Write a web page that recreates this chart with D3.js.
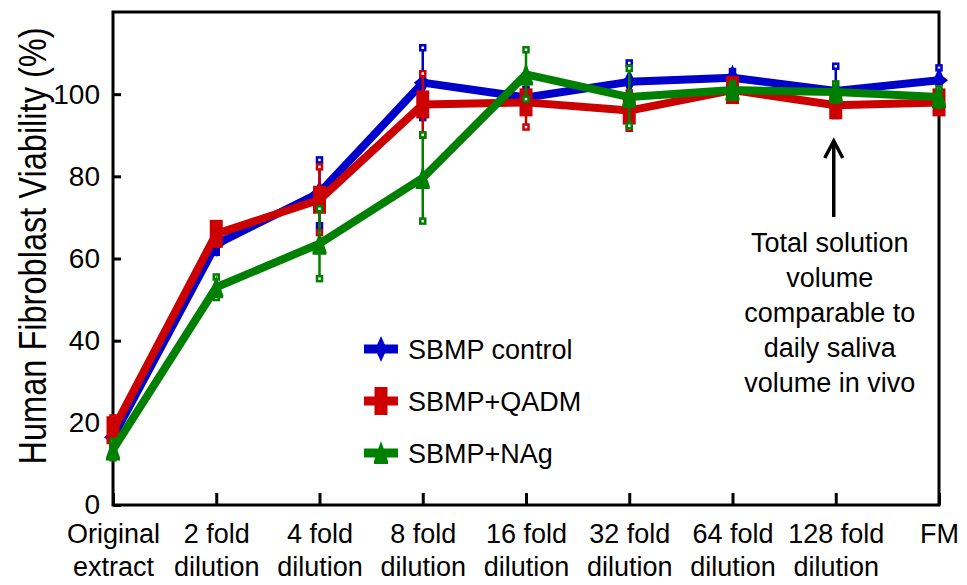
<!DOCTYPE html>
<html>
<head>
<meta charset="utf-8">
<script src="https://cdn.jsdelivr.net/npm/d3@7"></script>
<style>
  body { margin: 0; background: #fff; }
  text { font-family: "Liberation Sans", Arial, sans-serif; fill: #000; }
</style>
</head>
<body>
<svg id="chart" width="967" height="585"></svg>
<script>
// ---- data ----
const categories = ["Original extract", "2 fold dilution", "4 fold dilution", "8 fold dilution",
  "16 fold dilution", "32 fold dilution", "64 fold dilution", "128 fold dilution", "FM"];
const categoryLine1 = ["Original", "2 fold", "4 fold", "8 fold", "16 fold", "32 fold", "64 fold", "128 fold", "FM"];
const categoryLine2 = ["extract", "dilution", "dilution", "dilution", "dilution", "dilution", "dilution", "dilution", ""];
const seriesNames = ["SBMP control", "SBMP+QADM", "SBMP+NAg"];
const controlValues = [16.5, 63.5, 76.0, 102.8, 99.2, 103.0, 104.0, 100.8, 103.4];
const controlErrors = [2.0, 2.0, 8.0, 8.5, 2.0, 4.6, 1.5, 6.0, 3.0];
const qadmValues = [18.2, 66.0, 74.3, 97.5, 98.0, 96.0, 101.0, 97.3, 98.0];
const qadmErrors = [3.0, 1.5, 8.0, 7.5, 6.0, 4.3, 1.5, 2.0, 2.0];
const nagValues = [13.5, 53.0, 63.6, 79.6, 104.8, 99.3, 101.0, 100.5, 99.3];
const nagErrors = [2.0, 2.5, 8.5, 10.5, 6.0, 7.0, 1.5, 2.0, 2.0];
const yTicks = [0, 20, 40, 60, 80, 100];
const yTitle = "Human Fibroblast Viability (%)";
const annotationLines = ["Total solution", "volume", "comparable to", "daily saliva", "volume in vivo"];
const annotationCategory = "128 fold dilution";

// ---- layout ----
const svg = d3.select("#chart");
const plotL = 113, plotR = 939, plotT = 12, plotB = 505;
const x = d3.scalePoint().domain(categories).range([plotL, plotR]).padding(0);
const y = d3.scaleLinear().domain([0, 120]).range([plotB, plotT]);

const series = [
  { name: seriesNames[0], values: controlValues, errors: controlErrors, color: "#0000cc", shape: "star" },
  { name: seriesNames[1], values: qadmValues, errors: qadmErrors, color: "#cc0000", shape: "bar" },
  { name: seriesNames[2], values: nagValues, errors: nagErrors, color: "#008000", shape: "tri" }
];

const shapes = {
  star: "M0,-13 L4,-4 L9,0 L4,4 L0,13 L-4,4 L-9,0 L-4,-4 Z",
  bar: "M-6.5,-14 L6.5,-14 L6.5,14 L-6.5,14 Z",
  tri: "M0,-12 L7,8 L7,11 L-7,11 L-7,8 Z"
};

// ---- axes ----
const yAxis = d3.axisLeft(y).tickValues(yTicks).tickSize(-8).tickPadding(13);
const gy = svg.append("g").attr("transform", `translate(${plotL},0)`).call(yAxis);
gy.select(".domain").remove();
gy.selectAll(".tick line").attr("stroke", "#000").attr("stroke-width", 3);
gy.selectAll(".tick text").style("font-size", "28px").attr("fill", "#000");

const xAxis = d3.axisBottom(x).tickSize(-12).tickFormat("");
const gx = svg.append("g").attr("transform", `translate(0,${plotB})`).call(xAxis);
gx.select(".domain").remove();
gx.selectAll(".tick line").attr("stroke", "#000").attr("stroke-width", 3);
gx.selectAll(".tick text").remove();
gx.selectAll(".tick").each(function(d, i) {
  const t = d3.select(this).append("text").attr("text-anchor", "middle").style("font-size", "27px");
  t.append("tspan").attr("x", 0).attr("y", 38).text(categoryLine1[i]);
  if (categoryLine2[i]) t.append("tspan").attr("x", 0).attr("y", 71).text(categoryLine2[i]);
});

// frame
svg.append("rect").attr("x", plotL).attr("y", plotT).attr("width", plotR - plotL).attr("height", plotB - plotT)
  .attr("fill", "none").attr("stroke", "#000").attr("stroke-width", 3);

// y title (condensed horizontally like the reference)
svg.append("text")
  .attr("transform", "translate(46,246) rotate(-90) scale(0.835,1)")
  .attr("x", 0).attr("y", 0)
  .attr("text-anchor", "middle")
  .style("font-size", "39px")
  .text(yTitle);

// ---- series ----
const line = d3.line().x((d, i) => x(categories[i])).y(d => y(d));
series.forEach(s => {
  const g = svg.append("g");
  s.values.forEach((v, i) => {
    const cx = x(categories[i]);
    g.append("line").attr("x1", cx).attr("x2", cx).attr("y1", y(v - s.errors[i])).attr("y2", y(v + s.errors[i]))
      .attr("stroke", s.color).attr("stroke-width", 2.5);
    [v - s.errors[i], v + s.errors[i]].forEach(e => {
      g.append("rect").attr("x", cx - 2.5).attr("y", y(e) - 2.5).attr("width", 5).attr("height", 5)
        .attr("fill", "#fff").attr("stroke", s.color).attr("stroke-width", 2.5);
    });
  });
  g.append("path").datum(s.values).attr("d", line).attr("fill", "none")
    .attr("stroke", s.color).attr("stroke-width", 8).attr("stroke-linejoin", "round");
  g.selectAll(".mk").data(s.values).enter().append("path")
    .attr("d", shapes[s.shape])
    .attr("transform", (d, i) => `translate(${x(categories[i])},${y(d)})`)
    .attr("fill", s.color);
});

// ---- legend ----
const legY = [349, 401, 453];
series.forEach((s, i) => {
  const g = svg.append("g").attr("transform", `translate(0,${legY[i]})`);
  g.append("line").attr("x1", 364).attr("x2", 398).attr("y1", 0).attr("y2", 0)
    .attr("stroke", s.color).attr("stroke-width", 9);
  g.append("path").attr("d", shapes[s.shape]).attr("transform", "translate(381,0)").attr("fill", s.color);
  g.append("text").attr("x", 408).attr("y", 10).style("font-size", "27px").text(s.name);
});

// ---- annotation ----
const ax = x(annotationCategory) - 2;
svg.append("line").attr("x1", ax).attr("x2", ax).attr("y1", 217).attr("y2", 141)
  .attr("stroke", "#000").attr("stroke-width", 3.5);
svg.append("path").attr("d", `M${ax - 9},158 L${ax},141 L${ax + 9},158`)
  .attr("fill", "none").attr("stroke", "#000").attr("stroke-width", 3.5);
const at = svg.append("text").attr("text-anchor", "middle").style("font-size", "27px");
annotationLines.forEach((l, i) => {
  at.append("tspan").attr("x", ax - 4).attr("y", 252 + i * 35).text(l);
});
</script>
</body>
</html>
